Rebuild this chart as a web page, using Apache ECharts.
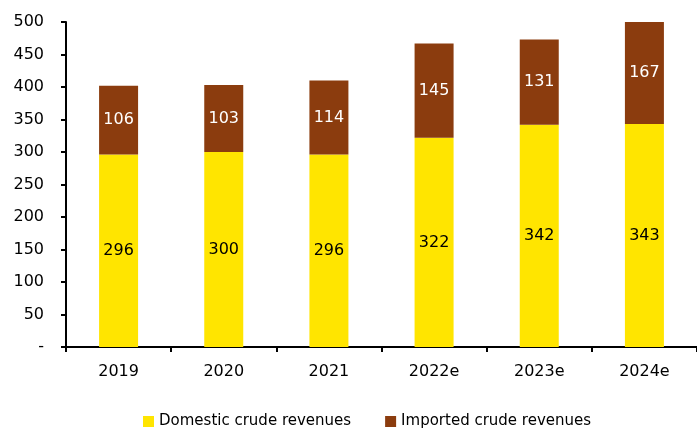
<!DOCTYPE html>
<html><head><meta charset="utf-8">
<script src="https://cdn.jsdelivr.net/npm/echarts@6/dist/echarts.min.js"></script>
<style>html,body{margin:0;padding:0;background:#fff}#c{width:697px;height:428px}</style>
</head><body><div id="c"></div>
<script>
const categories = ['2019','2020','2021','2022e','2023e','2024e'];
const domestic = [296,300,296,322,342,343];
const imported = [106,103,114,145,131,167];
const yTicks = ['-','50','100','150','200','250','300','350','400','450','500'];
const FONT = 'DejaVu Sans';
const chart = echarts.init(document.getElementById('c'));
chart.setOption({
  animation:false,
  grid:{left:66,top:22,bottom:81,right:-11,containLabel:false},
  legend:{top:409,left:138,itemWidth:11,itemHeight:11,itemGap:34,icon:'rect',
    textStyle:{fontFamily:FONT,fontSize:15,color:'#000'},
    data:['Domestic crude revenues','Imported crude revenues']},
  xAxis:{type:'category',data:categories,
    axisLine:{lineStyle:{color:'#000',width:2}},
    axisTick:{show:true,length:5,lineStyle:{color:'#000',width:2}},
    axisLabel:{fontFamily:FONT,fontSize:16,color:'#000',margin:17}},
  yAxis:{type:'value',min:0,max:500,interval:50,
    axisLine:{show:true,lineStyle:{color:'#000',width:2}},
    axisTick:{show:true,length:5,lineStyle:{color:'#000',width:2}},
    splitLine:{show:false},
    axisLabel:{fontFamily:FONT,fontSize:16,color:'#000',margin:22,
      formatter:(v)=>yTicks[Math.round(v/50)]}},
  series:[
    {name:'Domestic crude revenues',type:'bar',stack:'t',data:domestic,barWidth:39,
     itemStyle:{color:'#FFE500'},
     label:{show:true,position:'inside',color:'#000',fontFamily:FONT,fontSize:16}},
    {name:'Imported crude revenues',type:'bar',stack:'t',data:imported,barWidth:39,
     itemStyle:{color:'#8B3C0E'},
     label:{show:true,position:'inside',color:'#fff',fontFamily:FONT,fontSize:16}}
  ]
});
</script></body></html>
